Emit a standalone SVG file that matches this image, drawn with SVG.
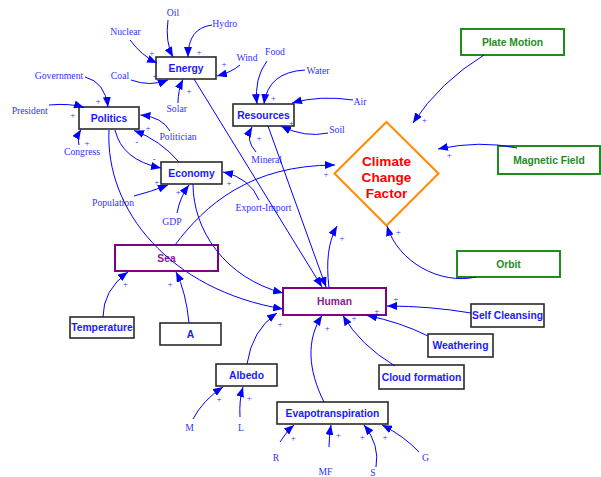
<svg xmlns="http://www.w3.org/2000/svg" width="601" height="477" viewBox="0 0 601 477">
<defs>
<style>
.lbl{font-family:"Liberation Serif","Times New Roman",serif;font-size:9.7px;fill:#3232ff;text-anchor:middle}
.pm{font-family:"Liberation Serif","Times New Roman",serif;font-size:9px;fill:#3232ff;text-anchor:middle}
.bt{font-family:"Liberation Sans",Arial,sans-serif;font-weight:bold;font-size:10.3px;text-anchor:middle;fill:#1a1aff}
.pt{font-family:"Liberation Sans",Arial,sans-serif;font-weight:bold;font-size:10.3px;text-anchor:middle;fill:#8b1a8b}
.gt{font-family:"Liberation Sans",Arial,sans-serif;font-weight:bold;font-size:10.3px;text-anchor:middle;fill:#1e8c1e}
.ct{font-family:"Liberation Sans",Arial,sans-serif;font-weight:bold;font-size:13.6px;text-anchor:middle;fill:#ff0000}
.box{fill:#fff;stroke:#2a2a2a;stroke-width:1.6}
.pbox{fill:none;stroke:#800080;stroke-width:2}
.gbox{fill:#fff;stroke:#1e8c1e;stroke-width:2}
.edge{fill:none;stroke:#0000ff;stroke-width:1;marker-end:url(#arr)}
</style>
<marker id="arr" markerUnits="userSpaceOnUse" markerWidth="11" markerHeight="8" refX="10" refY="4" orient="auto">
<path d="M0,0 L10,4 L0,8 z" fill="#0000ff"/>
</marker>
</defs>
<rect width="601" height="477" fill="#fff"/>

<g id="nodes">
<g id="energy"><rect class="box" x="156" y="57" width="60" height="22"/><text class="bt" x="186" y="72">Energy</text></g>
<g id="politics"><rect class="box" x="79" y="107" width="60" height="22"/><text class="bt" x="109" y="122">Politics</text></g>
<g id="resources"><rect class="box" x="233" y="104" width="61" height="22"/><text class="bt" x="263.5" y="119">Resources</text></g>
<g id="economy"><rect class="box" x="161" y="162" width="61" height="22"/><text class="bt" x="191.5" y="177">Economy</text></g>
<g id="sea"><rect class="pbox" x="115" y="245" width="103" height="26"/><text class="pt" x="166.5" y="262">Sea</text></g>
<g id="temperature"><rect class="box" x="70" y="317" width="64" height="21"/><text class="bt" x="102" y="331">Temperature</text></g>
<g id="a"><rect class="box" x="160" y="323" width="61" height="22"/><text class="bt" x="190.5" y="338">A</text></g>
<g id="human"><rect class="pbox" x="283" y="288" width="103" height="27" fill="#fff"/><text class="pt" x="334.5" y="305">Human</text></g>
<g id="ccf"><polygon points="386.5,122 438.5,173.5 386.5,225.5 334.5,173.5" fill="#fff" stroke="#ff8c00" stroke-width="2"/>
<text class="ct" x="386.5" y="166">Climate</text><text class="ct" x="386.5" y="182">Change</text><text class="ct" x="386.5" y="198">Factor</text></g>
<g id="plate-motion"><rect class="gbox" x="461" y="29" width="103" height="26"/><text class="gt" x="512.5" y="46">Plate Motion</text></g>
<g id="magnetic-field"><rect class="gbox" x="498" y="146" width="102" height="28"/><text class="gt" x="549" y="164">Magnetic Field</text></g>
<g id="orbit"><rect class="gbox" x="457" y="251" width="103" height="26"/><text class="gt" x="508.5" y="268">Orbit</text></g>
<g id="self-cleansing"><rect class="box" x="471" y="304" width="73" height="23"/><text class="bt" x="507.5" y="319">Self Cleansing</text></g>
<g id="weathering"><rect class="box" x="428" y="334" width="65" height="23"/><text class="bt" x="460.5" y="349">Weathering</text></g>
<g id="cloud-formation"><rect class="box" x="379" y="365" width="85" height="24"/><text class="bt" x="421.5" y="381">Cloud formation</text></g>
<g id="albedo"><rect class="box" x="216" y="364" width="61" height="22"/><text class="bt" x="246.5" y="379">Albedo</text></g>
<g id="evapotranspiration"><rect class="box" x="277" y="402" width="111" height="22"/><text class="bt" x="332.5" y="417">Evapotranspiration</text></g>

<g id="nuclear"><text class="lbl" x="125.5" y="35">Nuclear</text></g>
<g id="oil"><text class="lbl" x="173" y="16">Oil</text></g>
<g id="hydro"><text class="lbl" x="224.7" y="27">Hydro</text></g>
<g id="wind"><text class="lbl" x="247" y="61">Wind</text></g>
<g id="food"><text class="lbl" x="275" y="55">Food</text></g>
<g id="water"><text class="lbl" x="318" y="74">Water</text></g>
<g id="air"><text class="lbl" x="360" y="105">Air</text></g>
<g id="soil"><text class="lbl" x="337" y="133">Soil</text></g>
<g id="coal"><text class="lbl" x="120" y="79">Coal</text></g>
<g id="solar"><text class="lbl" x="176.7" y="112">Solar</text></g>
<g id="government"><text class="lbl" x="59" y="79">Government</text></g>
<g id="president"><text class="lbl" x="29.7" y="114">President</text></g>
<g id="congress"><text class="lbl" x="82" y="155">Congress</text></g>
<g id="politician"><text class="lbl" x="178" y="140">Politician</text></g>
<g id="mineral"><text class="lbl" x="266.7" y="163">Mineral</text></g>
<g id="export-import"><text class="lbl" x="263.5" y="211">Export-Import</text></g>
<g id="population"><text class="lbl" x="113" y="206">Population</text></g>
<g id="gdp"><text class="lbl" x="172" y="225">GDP</text></g>
<g id="m"><text class="lbl" x="189.5" y="431">M</text></g>
<g id="l"><text class="lbl" x="241" y="431">L</text></g>
<g id="r"><text class="lbl" x="276" y="461">R</text></g>
<g id="mf"><text class="lbl" x="325.5" y="475">MF</text></g>
<g id="s"><text class="lbl" x="373" y="476">S</text></g>
<g id="g"><text class="lbl" x="425.5" y="461">G</text></g>
</g>

<g id="connectors">
<path class="edge" d="M130,40 Q142,56 157,63"/>
<path class="edge" d="M168,20 Q165,42 173,57"/>
<path class="edge" d="M212,25 Q188,28 188,57"/>
<path class="edge" d="M240,65 Q232,72 217,76"/>
<path class="edge" d="M131,80 Q150,87 168,80"/>
<path class="edge" d="M178,103 Q178,90 183,79.5"/>
<path class="edge" d="M85,77 Q105,82 108,107"/>
<path class="edge" d="M49,105 Q70,103 84,107.5"/>
<path class="edge" d="M79,145 Q77,136 81,129.5"/>
<path class="edge" d="M170,131 Q162,117 140.5,115"/>
<path class="edge" d="M115,130 Q122,160 161,168"/>
<path class="edge" d="M179,162 Q160,140 134,130.5"/>
<path class="edge" d="M134,196 Q150,192 168,185"/>
<path class="edge" d="M177,213 Q180,197 189,185"/>
<path class="edge" d="M259,200 Q250,178 223,172"/>
<path class="edge" d="M175,245 C205,205 250,165 335,165"/>
<path class="edge" d="M109,130 C105,210 170,290 283,309"/>
<path class="edge" d="M193,184 C193,230 225,278 283,293"/>
<path class="edge" d="M194,79 L322,287"/>
<path class="edge" d="M268,126 L326,287"/>
<path class="edge" d="M329,288 C326,262 328,242 337,226"/>
<path class="edge" d="M256,152 Q245,140 252,127"/>
<path class="edge" d="M267,61 Q254,78 257,104"/>
<path class="edge" d="M305,70 Q268,72 264,104"/>
<path class="edge" d="M353,100 Q320,95 292,103"/>
<path class="edge" d="M328,133 Q305,138 281,126"/>
<path class="edge" d="M484,55 Q440,82 413,123"/>
<path class="edge" d="M517,148 Q480,140 438,149"/>
<path class="edge" d="M476,277 C440,285 398,262 387,226"/>
<path class="edge" d="M103,317 Q103,290 128,272"/>
<path class="edge" d="M189,323 Q186,292 176,272"/>
<path class="edge" d="M471,313 Q430,306 387,306"/>
<path class="edge" d="M428,336 Q400,322 367,315.5"/>
<path class="edge" d="M395,366 Q360,345 343,315.5"/>
<path class="edge" d="M324,402 C308,370 306,340 322,315.5"/>
<path class="edge" d="M247,364 Q252,330 277,313"/>
<path class="edge" d="M193,419 Q203,400 223,387"/>
<path class="edge" d="M240,417 Q239,400 243,387"/>
<path class="edge" d="M280,442 Q286,432 294,425"/>
<path class="edge" d="M329,447 Q329,437 331,425"/>
<path class="edge" d="M376,467 Q380,445 364,425"/>
<path class="edge" d="M419,452 Q404,436 382,425"/>
<g id="polarities">
<text class="pm" x="151.7" y="56">+</text>
<text class="pm" x="199" y="55">+</text>
<text class="pm" x="224" y="67">+</text>
<text class="pm" x="155" y="79">+</text>
<text class="pm" x="189" y="94">+</text>
<text class="pm" x="98" y="104">+</text>
<text class="pm" x="72.7" y="118">+</text>
<text class="pm" x="87" y="145.5">+</text>
<text class="pm" x="148" y="130.5">+</text>
<text class="pm" x="136.7" y="145">-</text>
<text class="pm" x="154.3" y="161.5">-</text>
<text class="pm" x="156.7" y="184.5">+</text>
<text class="pm" x="178.3" y="195">+</text>
<text class="pm" x="229" y="186.3">+</text>
<text class="pm" x="273.3" y="100.7">+</text>
<text class="pm" x="291.5" y="125.5">+</text>
<text class="pm" x="259" y="141.3">+</text>
<text class="pm" x="326" y="177">+</text>
<text class="pm" x="342" y="241.3">+</text>
<text class="pm" x="424.3" y="123">+</text>
<text class="pm" x="449.3" y="158">+</text>
<text class="pm" x="398.3" y="235.3">+</text>
<text class="pm" x="125.3" y="287.3">+</text>
<text class="pm" x="170" y="287.3">+</text>
<text class="pm" x="395.7" y="302">+</text>
<text class="pm" x="376.7" y="314">+</text>
<text class="pm" x="354" y="321.3">+</text>
<text class="pm" x="327.3" y="331.3">+</text>
<text class="pm" x="280" y="327">+</text>
<text class="pm" x="219" y="402.3">+</text>
<text class="pm" x="249.3" y="401.3">+</text>
<text class="pm" x="293.3" y="441.3">+</text>
<text class="pm" x="338.3" y="438.3">+</text>
<text class="pm" x="362.3" y="440.3">+</text>
<text class="pm" x="385" y="440.3">+</text>
</g>
</g>
</svg>
